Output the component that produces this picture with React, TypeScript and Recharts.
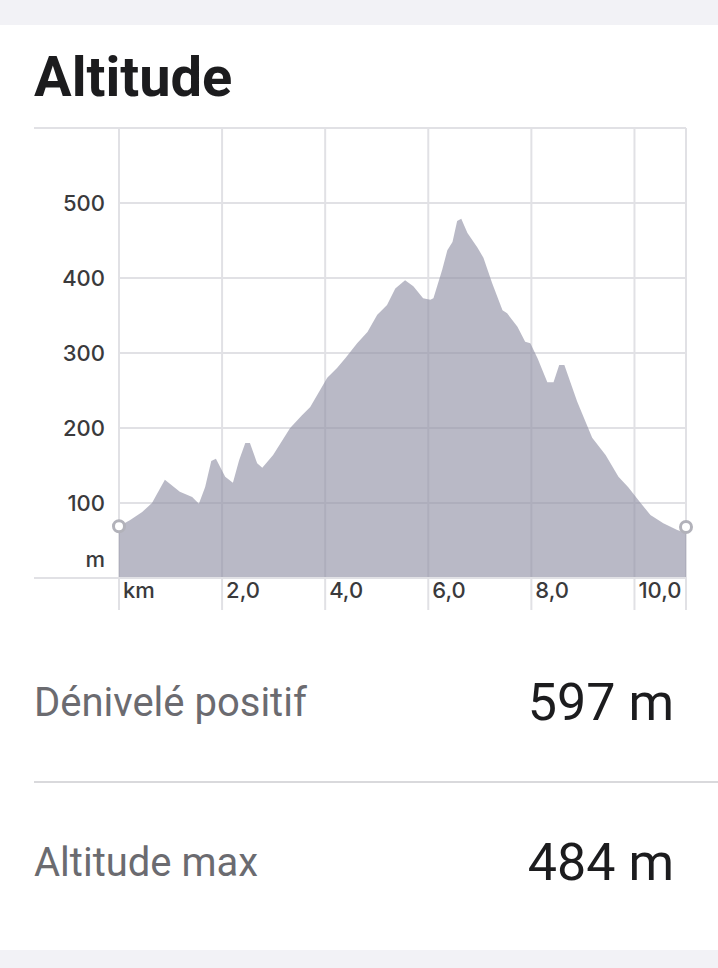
import React from "react";
import { AreaChart, Area, XAxis, YAxis, CartesianGrid, ReferenceDot } from "recharts";

// distance along the route (km) and altitude (m)
const distanceKm = [
  0, 0.21, 0.45, 0.64, 0.89, 1.18, 1.42, 1.55, 1.67, 1.79, 1.88, 2.06, 2.21, 2.33, 2.45, 2.54, 2.68, 2.78,
  2.99, 3.32, 3.55, 3.71, 4.04, 4.23, 4.39, 4.62, 4.82, 5.01, 5.07, 5.2, 5.36, 5.55, 5.71, 5.9, 6.04, 6.1,
  6.27, 6.37, 6.47, 6.56, 6.64, 6.76, 6.95, 7.07, 7.24, 7.44, 7.53, 7.73, 7.88, 7.98, 8.12, 8.31, 8.43,
  8.54, 8.64, 8.89, 9.18, 9.44, 9.69, 9.88, 10.12, 10.31, 10.56, 10.83, 11.0,
];
const altitudeM = [
  69, 77, 88, 100, 131, 115, 108, 99, 121, 156, 159, 135, 127, 157, 180, 180, 153, 147, 164, 200, 217, 228,
  267, 280, 293, 313, 328, 351, 355, 364, 386, 397, 389, 373, 371, 373, 411, 437, 448, 476, 479, 460, 441,
  427, 393, 357, 353, 335, 315, 313, 293, 261, 261, 284, 284, 235, 187, 164, 135, 121, 100, 84, 73, 64, 60,
];
const endMarkers = [
  { km: 0, alt: 69 },
  { km: 11.0, alt: 68 },
];

const xTicks = [0, 2, 4, 6, 8, 10, 11];
const xTickLabels: Record<number, string> = { 0: "km", 2: "2,0", 4: "4,0", 6: "6,0", 8: "8,0", 10: "10,0" };
const yTicks = [0, 100, 200, 300, 400, 500, 600];
const yTickLabels: Record<number, string> = { 0: "m", 100: "100", 200: "200", 300: "300", 400: "400", 500: "500" };

const stats = [
  { label: "Dénivelé positif", value: "597 m" },
  { label: "Altitude max", value: "484 m" },
];

const data = distanceKm.map((km, i) => ({ km, alt: altitudeM[i] }));

const GRID = "#e1e1e5";
const TICK_TEXT = "#3a3a3c";
const TICK_FONT = "Inter, sans-serif";

const renderXTick = (props: any) => {
  const { x, y, payload } = props;
  const label = xTickLabels[payload.value];
  return (
    <g>
      <line x1={x} y1={y} x2={x} y2={y + 32} stroke={GRID} strokeWidth={2} />
      {label && (
        <text x={x + 4} y={y + 20} fill={TICK_TEXT} fontSize={22} fontWeight={500} fontFamily={TICK_FONT}>
          {label}
        </text>
      )}
    </g>
  );
};

const renderYTick = (props: any) => {
  const { y, payload } = props;
  const label = yTickLabels[payload.value];
  if (!label) return <g />;
  const baseline = payload.value === 0 ? y - 11 : y + 8;
  return (
    <text x={105} y={baseline} textAnchor="end" fill={TICK_TEXT} fontSize={22} fontWeight={500} fontFamily={TICK_FONT}>
      {label}
    </text>
  );
};

export default function App() {
  return (
    <div
      style={{
        position: "absolute",
        left: 0,
        top: 0,
        width: 718,
        height: 968,
        background: "#f2f2f6",
        overflow: "hidden",
      }}
    >
      <div style={{ position: "absolute", left: 0, top: 25, width: 718, height: 925, background: "#ffffff" }} />

      <div
        style={{
          position: "absolute",
          left: 34,
          top: 44,
          fontFamily: "Roboto, sans-serif",
          fontWeight: 700,
          fontSize: 56,
          lineHeight: "66px",
          color: "#1c1c1e",
        }}
      >
        Altitude
      </div>

      {/* left extensions of the top and bottom frame lines */}
      <div style={{ position: "absolute", left: 34, top: 127, width: 86, height: 2, background: GRID }} />
      <div style={{ position: "absolute", left: 34, top: 577, width: 86, height: 2, background: GRID }} />

      <div style={{ position: "absolute", left: 0, top: 100 }}>
        <AreaChart width={718} height={518} data={data} margin={{ top: 28, right: 32, bottom: 0, left: 34 }}>
          <CartesianGrid stroke={GRID} strokeWidth={2} />
          <XAxis
            dataKey="km"
            type="number"
            domain={[0, 11]}
            ticks={xTicks}
            interval={0}
            height={40}
            tickSize={0}
            tickMargin={0}
            axisLine={{ stroke: GRID, strokeWidth: 2 }}
            tickLine={false}
            tick={renderXTick}
          />
          <YAxis
            type="number"
            domain={[0, 600]}
            ticks={yTicks}
            interval={0}
            width={85}
            tickSize={0}
            tickMargin={0}
            axisLine={false}
            tickLine={false}
            tick={renderYTick}
          />
          <Area
            type="linear"
            dataKey="alt"
            stroke="none"
            fill="#8e8ea3"
            fillOpacity={0.62}
            dot={false}
            activeDot={false}
            isAnimationActive={false}
          />
          {endMarkers.map((m) => (
            <ReferenceDot
              key={m.km}
              x={m.km}
              y={m.alt}
              r={5.5}
              fill="#ffffff"
              stroke="#b2b2ba"
              strokeWidth={3}
              ifOverflow="visible"
            />
          ))}
        </AreaChart>
      </div>

      {stats.map((s, i) => (
        <div
          key={s.label}
          style={{ position: "absolute", left: 34, top: 655 + i * 160, width: 640, height: 100 }}
        >
          <span
            style={{
              position: "absolute",
              left: 0,
              top: 24,
              fontFamily: "Roboto, sans-serif",
              fontSize: 40,
              lineHeight: "48px",
              color: "#6b6b70",
            }}
          >
            {s.label}
          </span>
          <span
            style={{
              position: "absolute",
              right: 0,
              top: 18,
              fontFamily: "Roboto, sans-serif",
              fontSize: 52,
              lineHeight: "60px",
              color: "#1c1c1e",
            }}
          >
            {s.value}
          </span>
        </div>
      ))}
      <div style={{ position: "absolute", left: 34, top: 781, width: 684, height: 1.5, background: "#d9d9dc" }} />
    </div>
  );
}
